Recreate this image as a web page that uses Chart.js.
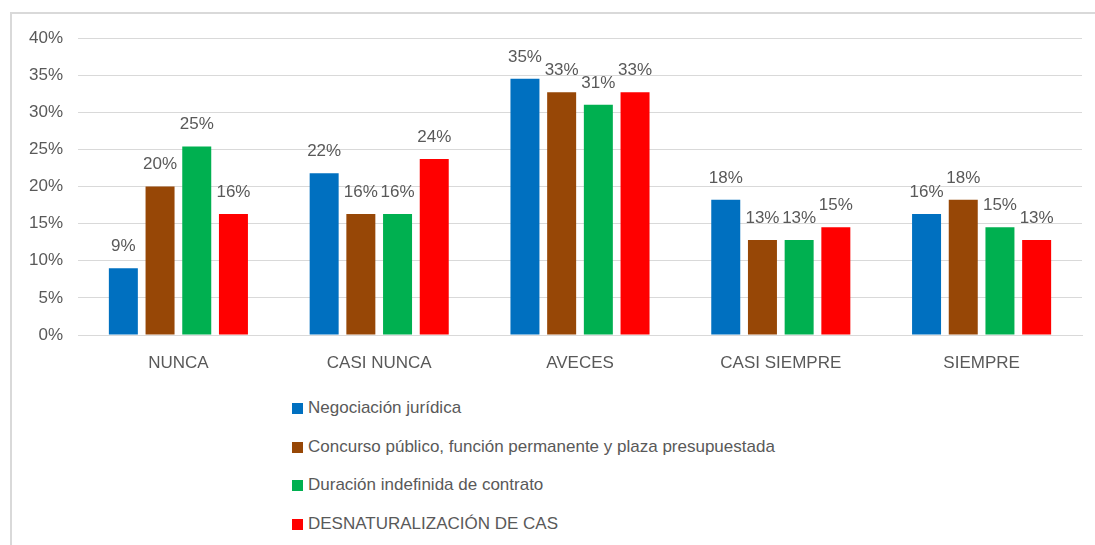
<!DOCTYPE html>
<html>
<head>
<meta charset="utf-8">
<script src="https://cdn.jsdelivr.net/npm/chart.js@4/dist/chart.umd.min.js"></script>
<style>
  body { margin: 0; background: #fff; font-family: "Liberation Sans", Arial, sans-serif; }
  #wrap { position: relative; width: 1095px; height: 545px; overflow: hidden; }
  #frame { position: absolute; left: 10px; top: 12px; width: 1090px; height: 540px;
           border-top: 2px solid #d9d9d9; border-left: 2px solid #d9d9d9; }
  #chart { position: absolute; left: 0; top: 0; }
  #legend { position: absolute; left: 292px; top: 398px; }
  .item { height: 38.6px; display: flex; align-items: flex-start; font-size: 17px; color: #595959; line-height: 20px; }
  .box { width: 11px; height: 11px; margin-right: 5px; margin-top: 5px; }
</style>
</head>
<body>
<div id="wrap">
  <div id="frame"></div>
  <canvas id="chart" width="1095" height="380"></canvas>
  <div id="legend"></div>
</div>
<script>
const categories = ['NUNCA', 'CASI NUNCA', 'AVECES', 'CASI SIEMPRE', 'SIEMPRE'];
const negociacion = [9.0, 21.8, 34.5, 18.2, 16.3];
const concurso = [20.0, 16.3, 32.7, 12.8, 18.2];
const duracion = [25.4, 16.3, 31.0, 12.8, 14.5];
const desnaturalizacion = [16.3, 23.7, 32.7, 14.5, 12.8];
const yTicks = [0, 5, 10, 15, 20, 25, 30, 35, 40];

const series = [
    { label: 'Negociación jurídica', data: negociacion, color: '#0070C0' },
    { label: 'Concurso público, función permanente y plaza presupuestada', data: concurso, color: '#974706' },
    { label: 'Duración indefinida de contrato', data: duracion, color: '#00B050' },
    { label: 'DESNATURALIZACIÓN DE CAS', data: desnaturalizacion, color: '#FF0000' }
];

const textColor = '#595959';
const fontFamily = '"Liberation Sans", Arial, sans-serif';

// labels above each bar, rounded like the original
const barLabels = {
    id: 'barLabels',
    afterDatasetsDraw(chart) {
        const ctx = chart.ctx;
        ctx.save();
        ctx.font = '17px ' + fontFamily;
        ctx.fillStyle = textColor;
        ctx.textAlign = 'center';
        ctx.textBaseline = 'middle';
        chart.data.datasets.forEach((ds, i) => {
            chart.getDatasetMeta(i).data.forEach((bar, j) => {
                ctx.fillText(Math.round(ds.data[j]) + '%', bar.x, bar.y - 22);
            });
        });
        ctx.restore();
    }
};

new Chart(document.getElementById('chart'), {
    type: 'bar',
    data: {
        labels: categories,
        datasets: series.map(s => ({
            label: s.label,
            data: s.data,
            backgroundColor: s.color,
            borderWidth: 0,
            categoryPercentage: 0.731,
            barPercentage: 0.79
        }))
    },
    options: {
        responsive: false,
        animation: false,
        layout: { padding: { top: 38, right: 13, left: 0, bottom: 0 } },
        plugins: {
            legend: { display: false },
            tooltip: { enabled: false }
        },
        scales: {
            x: {
                grid: { display: false, drawTicks: false },
                border: { color: '#d9d9d9', width: 1 },
                ticks: { color: textColor, font: { family: fontFamily, size: 17 }, padding: 18 },
                afterFit: scale => { scale.height = 45; }
            },
            y: {
                min: 0,
                max: 40,
                afterBuildTicks: scale => { scale.ticks = yTicks.map(v => ({ value: v })); },
                grid: { color: '#d9d9d9', drawTicks: false },
                border: { display: false },
                ticks: {
                    color: textColor,
                    font: { family: fontFamily, size: 17 },
                    padding: 15,
                    callback: v => v + '%'
                },
                afterFit: scale => { scale.width = 78; }
            }
        }
    },
    plugins: [barLabels]
});

const legend = document.getElementById('legend');
series.forEach(s => {
    const item = document.createElement('div');
    item.className = 'item';
    item.innerHTML = '<span class="box" style="background:' + s.color + '"></span><span>' + s.label + '</span>';
    legend.appendChild(item);
});
</script>
</body>
</html>
